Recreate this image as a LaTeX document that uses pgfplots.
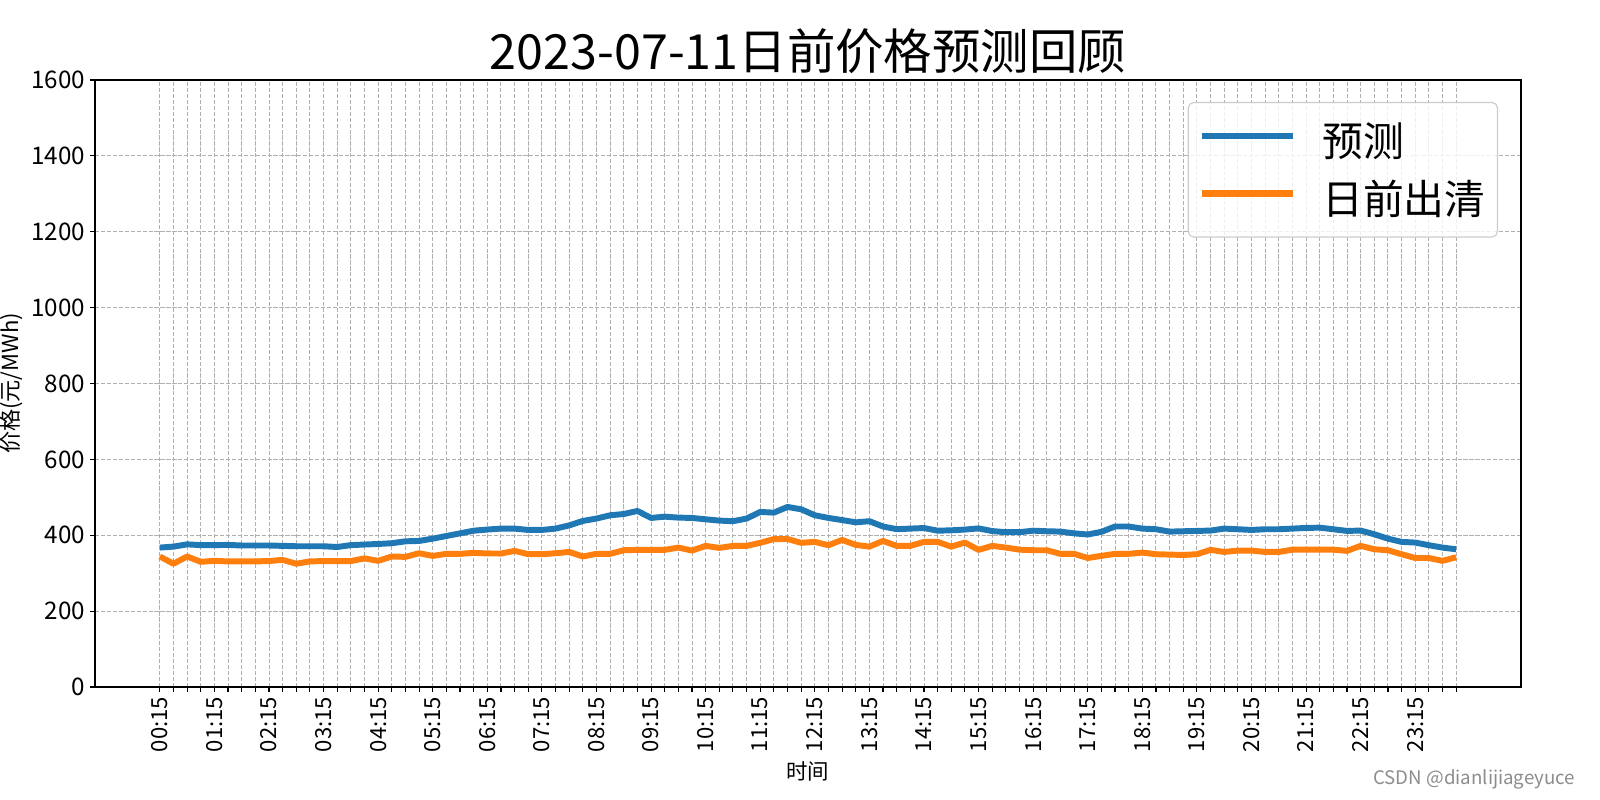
\documentclass[border=0pt]{standalone}
\usepackage{fontspec}
\setmainfont{Noto Sans CJK SC}
\usepackage{pgfplots}
\pgfplotsset{compat=1.18}
\usepackage{pgfplotstable}
\definecolor{mblue}{HTML}{1F77B4}
\definecolor{morange}{HTML}{FF7F0E}
\definecolor{gridc}{HTML}{B0B0B0}

\pgfplotstableread{
i pred clear
0 367.5 344
1 370 325
2 376 344
3 374 330
4 374 332.5
5 374.5 331
6 373 331
7 373 331
8 373 332
9 372 335
10 371 325
11 371 331
12 371 332
13 369 332
14 374 332
15 375.5 339
16 377 332.5
17 379 344
18 384 343
19 385 352.6
20 391 345.6
21 398 351
22 405 351
23 412 353.5
24 415 352
25 417.5 351.8
26 417.5 358.8
27 414 350
28 414 350
29 417.5 352.6
30 426 356
31 437.7 344
32 444 351
33 452.6 351
34 456 360.5
35 464 361.4
36 445.6 361.4
37 449 361.4
38 446.5 367.5
39 445.6 359.6
40 442 372
41 438.6 366.7
42 437 372
43 444 372
44 461.4 380
45 459.6 390
46 474.6 390
47 468.4 380
48 452.6 382.5
49 445.6 373.7
50 440 387.7
51 434 374.6
52 437 370
53 423 385
54 416 372
55 417.5 372
56 419 382.5
57 412 382.5
58 413 370
59 415 380.7
60 418 361.4
61 411 372
62 408 367.5
63 408 362
64 412 360.5
65 410.5 360.5
66 409.6 351
67 405 351
68 402 340
69 409 345.6
70 423 351
71 423 351
72 417.5 354.4
73 415.8 350
74 409.6 349
75 410.5 348
76 411.4 350
77 412.3 361.4
78 417.5 356
79 415.8 359.6
80 414 359.6
81 415.8 356
82 415.8 356
83 417.5 362
84 419.3 362
85 420 362
86 415.8 362
87 411.4 358.8
88 412.3 372
89 402.6 363
90 391 360.5
91 382.5 350
92 380.7 340
93 373.7 340
94 367.5 332.5
95 363 342
}\datatable

\begin{document}
\begin{tikzpicture}
\useasboundingbox (0,0) rectangle (16in,8in);
\begin{axis}[
  at={(0.95in,1.13in)}, anchor=south west,
  width=14.26in, height=6.07in, scale only axis,
  xmin=-4.75, xmax=99.75, ymin=0, ymax=1600,
  xtick={0,1,...,95},
  xticklabels={00:15,,,,01:15,,,,02:15,,,,03:15,,,,04:15,,,,05:15,,,,06:15,,,,07:15,,,,08:15,,,,09:15,,,,10:15,,,,11:15,,,,12:15,,,,13:15,,,,14:15,,,,15:15,,,,16:15,,,,17:15,,,,18:15,,,,19:15,,,,20:15,,,,21:15,,,,22:15,,,,23:15,,,},
  ytick={0,200,...,1600},
  /pgf/number format/assume math mode=true,
  /pgf/number format/1000 sep={},
  tick align=outside,
  major tick length=0.05in,
  tick style={black, line width=0.8pt},
  xtick pos=bottom, ytick pos=left,
  axis line style={line width=0.8pt},
  xticklabel style={rotate=90, anchor=east, font=\fontsize{16}{18}\selectfont},
  yticklabel style={font=\fontsize{17.5}{20}\selectfont},
  grid=major,
  major grid style={gridc, line width=0.7pt, dash pattern=on 3pt off 1.3pt},
  title={2023-07-11日前价格预测回顾},
  title style={at={(axis description cs:0.5,1.034)}, anchor=center, font=\fontsize{35}{40}\selectfont},
  xlabel={时间},
  xlabel style={at={(axis description cs:0.5,-0.1384)}, anchor=center, font=\fontsize{15.5}{17}\selectfont},
  ylabel={价格(元/MWh)},
  ylabel style={at={(axis description cs:-0.0589,0.5)}, anchor=center, font=\fontsize{16}{18}\selectfont},
  legend cell align=left,
  legend image code/.code={\draw[#1, line width=5pt] (0in,0.36em) -- (0.91in,0.36em);},
  legend style={at={(0.9839,0.9638)}, anchor=north east, draw=black!20, line width=0.8pt,
    rounded corners=4pt, fill=white, fill opacity=0.8, draw opacity=1, text opacity=1,
    font=\fontsize{29.5}{34}\selectfont, inner xsep=0.1in, inner ysep=0.185in, row sep=0.17in,
    nodes={inner sep=0.02in},
    /tikz/every odd column/.append style={column sep=0.24in}},
]
\addplot[mblue, line width=4.3pt, line join=round] table[x=i, y=pred]{\datatable};
\addlegendentry{预测}
\addplot[morange, line width=4.3pt, line join=round] table[x=i, y=clear]{\datatable};
\addlegendentry{日前出清}
\end{axis}
\node[anchor=east, text=black!45, font=\fontsize{13.5}{15}\selectfont] at (15.8in,0.21in) {CSDN @dianlijiageyuce};
\end{tikzpicture}
\end{document}
